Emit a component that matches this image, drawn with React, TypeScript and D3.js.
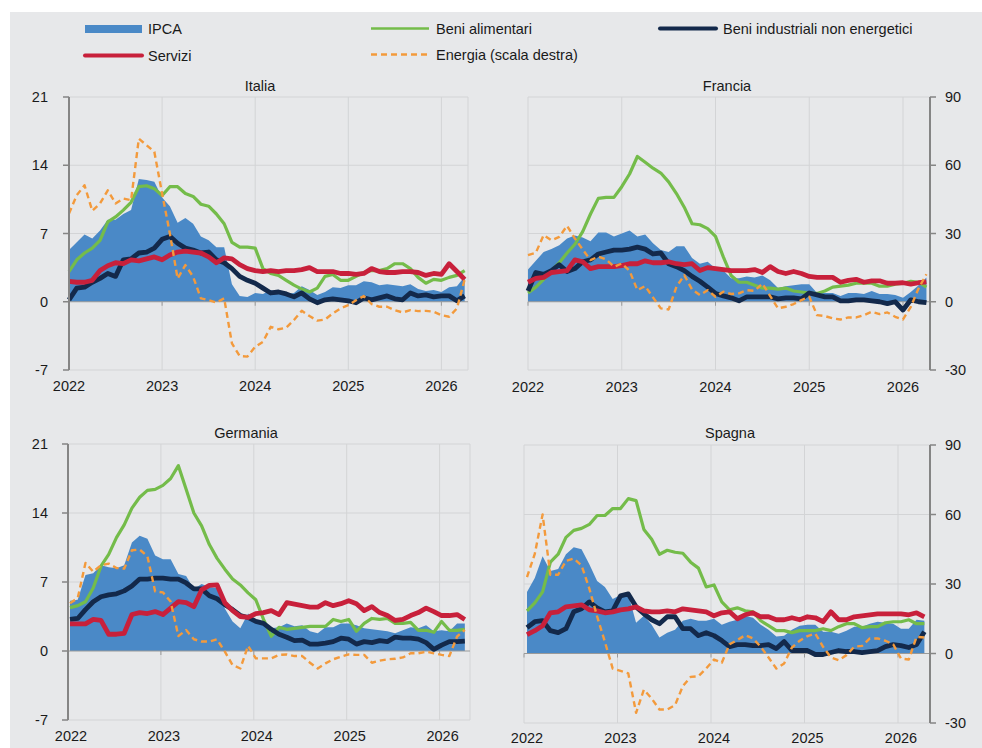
import React from 'react';
import * as d3 from 'd3';

// ---------- DATA ----------
const yearLabels = ['2022', '2023', '2024', '2025', '2026'];
const leftTicks = [-7, 0, 7, 14, 21];
const rightTicks = [-30, 0, 30, 60, 90];

const itIPCA = [5.3,6.1,6.9,6.5,7.3,8.4,8.4,9.0,9.4,12.6,12.5,12.3,10.7,9.8,8.1,8.6,8.0,6.7,6.3,5.6,5.6,1.8,0.6,0.5,0.9,0.8,1.2,0.9,0.8,0.9,1.6,1.2,0.7,1.0,1.5,1.4,1.7,1.7,2.1,2.0,1.7,1.8,1.7,1.6,1.8,1.3,1.1,1.2,1.0,1.5,1.6,2.6];
const itFood = [3.1,4.3,5.0,5.5,6.3,8.2,8.7,9.4,10.2,11.8,11.9,11.6,10.9,11.8,11.8,11.1,10.8,10.0,9.8,9.0,8.0,6.1,5.6,5.6,5.5,3.4,2.9,2.7,2.2,1.7,1.3,1.0,1.4,2.6,2.8,2.2,2.2,2.6,3.0,3.2,3.2,3.4,3.9,3.9,3.4,2.5,1.9,2.3,2.2,2.5,2.7,3.2];
const itInd = [0.2,1.4,1.5,2.0,2.4,2.9,2.6,4.3,4.4,5.0,5.1,5.5,6.4,6.7,6.0,5.5,5.3,5.0,5.1,4.3,4.0,3.4,2.6,2.2,1.9,1.4,0.9,1.0,0.8,0.5,0.9,0.3,-0.1,0.2,0.3,0.2,0.1,-0.1,0.4,0.2,0.4,0.6,0.3,0.2,0.9,0.6,0.7,0.5,0.6,0.6,0.1,0.6];
const itServ = [2.1,2.0,2.0,2.2,3.2,3.7,4.0,3.9,4.3,4.2,4.4,4.6,4.3,4.8,5.1,5.2,5.1,5.0,4.6,4.0,4.5,4.4,3.8,3.4,3.2,3.1,3.2,3.1,3.2,3.2,3.3,3.5,3.1,3.1,3.1,2.9,2.9,2.8,2.9,3.4,3.1,3.0,3.0,3.1,3.1,3.0,2.7,2.9,2.8,3.9,3.1,2.3];
const itEnergy = [38.8,46.8,51.2,40,43.2,49,43.2,45.4,44.6,71.7,68.8,65.9,47.6,30,10.2,16.1,11,1.5,0.7,-0.3,1.5,-18.3,-23.9,-24.1,-19.8,-17.6,-11,-12.1,-11.4,-8,-4,-6.3,-8.3,-7.8,-5.1,-2.9,-1.5,0.7,2.5,-1,-2.2,-2.2,-3.7,-4.7,-3.7,-4.1,-4,-4.4,-5.9,-6.6,-2.9,9.8];

const frIPCA = [3.3,4.2,5.1,5.4,5.8,6.5,6.8,6.6,6.2,7.1,7.1,6.7,7.0,7.3,6.7,6.9,6.0,5.3,5.1,5.7,5.7,4.5,3.9,4.1,3.4,3.2,2.4,2.4,2.6,2.5,2.7,2.2,1.4,1.6,1.7,1.8,1.8,0.9,0.9,0.9,0.6,0.9,0.9,0.8,1.1,0.8,0.8,0.7,0.4,1.0,1.7,2.5];
const frFood = [0.9,1.5,2.3,3.2,4.0,5.0,5.9,7.2,9.0,10.6,10.7,10.7,11.8,13.1,14.9,14.3,13.7,13.2,12.3,11.1,9.7,8.0,7.9,7.5,6.7,4.6,2.7,2.0,2.0,1.7,1.4,1.4,1.3,1.4,1.1,1.0,0.9,0.85,1.1,1.5,1.6,1.7,1.9,1.9,1.9,1.6,1.6,1.8,1.9,2.1,2.0,1.5];
const frInd = [1.1,3.0,2.8,3.2,3.8,3.1,3.4,4.1,4.3,4.9,5.1,5.3,5.3,5.4,5.6,5.4,4.9,5.0,3.9,3.6,3.2,2.6,2.1,1.5,0.85,0.6,0.4,0.1,0.5,0.5,0.5,0.5,0.3,0.4,0.4,0.3,0.9,0.7,0.5,0.5,0.1,0.1,0.2,0.2,0.1,0,-0.2,0,-0.85,0.2,0,-0.1];
const frServ = [2.0,2.4,2.5,3.0,3.1,3.2,4.3,4.1,3.4,3.6,3.6,3.6,3.7,3.9,3.9,4.2,4.0,4.0,4.1,3.9,3.8,3.9,3.2,3.5,3.4,3.3,3.2,3.2,3.2,3.3,3.0,3.6,3.1,2.9,3.1,2.9,2.6,2.5,2.5,2.5,2.0,2.2,2.3,2.0,2.15,2.15,1.9,1.9,1.95,1.8,1.95,2.05];
const frEnergy = [20.5,21.5,29.3,27,28.5,33.4,27.8,23,18.3,19.8,18.6,15.4,16.8,13.6,5.1,6.9,1.9,-2.9,-3.4,6.6,11.7,5.4,2.9,5.1,2.2,4.4,3.4,3.7,5.1,4.8,8.0,2.5,-2.9,-2.2,-1.0,0.7,2.2,-5.9,-6.3,-7.3,-7.8,-6.9,-6.9,-5.9,-4.4,-5.4,-4.7,-6.6,-7.8,-2.2,5.9,12.1];

const deIPCA = [5.1,5.2,7.7,7.9,8.7,8.5,8.4,8.7,11.0,11.7,11.4,9.7,9.3,9.3,7.8,7.6,6.3,6.8,6.5,6.4,4.3,3.0,2.3,3.8,3.1,2.7,2.3,2.4,2.8,2.5,2.6,2.0,1.8,2.4,2.4,2.8,2.8,2.6,2.3,2.2,2.1,2.0,1.8,2.1,2.4,2.3,2.6,2.0,2.1,2.0,2.8,2.8];
const deFood = [4.4,4.6,5.0,6.4,8.6,9.8,11.5,12.8,14.5,15.6,16.3,16.4,16.8,17.5,18.8,16.4,14.0,12.7,10.8,9.4,8.3,7.3,6.7,5.9,5.2,3.2,1.5,2.4,2.2,2.3,2.4,2.5,2.5,2.5,3.2,3.0,3.2,2.0,2.8,3.3,3.2,3.3,2.8,2.8,2.9,2.1,2.1,1.9,3.0,2.1,2.1,2.2];
const deInd = [3.2,3.3,4.2,5.0,5.5,5.7,5.8,6.1,6.6,7.3,7.3,7.4,7.4,7.3,7.3,6.9,6.3,6.3,5.6,5.3,4.7,4.2,3.6,3.4,3.0,2.8,2.2,1.7,1.4,1.05,1.1,0.7,0.7,0.8,0.95,1.3,1.2,0.7,0.95,0.85,1.05,0.95,1.4,1.3,1.3,1.2,0.85,0.17,0.6,0.95,0.95,1.0];
const deServ = [2.75,2.75,2.75,3.2,3.1,1.7,1.7,1.8,3.7,3.9,3.8,4.0,3.7,4.35,5.0,4.9,4.5,6.2,6.65,6.7,4.9,4.1,3.5,3.4,3.8,3.9,4.1,3.7,4.9,4.75,4.6,4.45,4.45,4.9,4.6,4.8,5.1,4.8,4.1,4.5,3.9,3.6,3.1,3.2,3.6,3.9,4.35,4.0,3.6,3.6,3.7,3.2];
const deEnergy = [20.8,23,38.3,34.5,37.3,38,36.1,35.8,43.8,44.1,41.2,25.9,25.5,21.5,6.5,9.1,5.1,4.1,4.1,5.1,-0.3,-6.1,-7.6,2.3,-3.2,-3.2,-3.2,-1.7,-1.5,-2.2,-2.2,-5.1,-7.6,-5.4,-3.6,-2.5,-1.5,-1.7,-1.7,-5.1,-4.2,-3.6,-3.4,-2.8,-1.0,-1.0,-0.3,-1.0,-1.7,-2.2,6.3,9.2];

const esIPCA = [6.2,7.6,9.8,8.3,8.5,10.0,10.7,10.5,9.0,7.3,6.7,5.5,5.9,6.0,3.1,3.8,2.9,1.6,2.1,2.4,3.3,3.5,3.3,3.3,3.5,2.9,3.2,3.4,3.8,3.6,2.9,2.4,1.7,1.8,2.4,2.8,2.9,2.9,2.2,2.2,2.0,2.3,2.7,2.7,3.0,3.2,3.1,3.0,2.5,2.5,3.4,3.3];
const esFood = [4.3,5.1,6.2,9.2,10.0,11.7,12.4,12.6,13.0,13.9,13.9,14.6,14.6,15.6,15.4,12.5,11.5,10.0,10.4,10.2,10.1,9.2,8.6,6.7,6.9,5.2,4.4,4.6,4.3,4.2,3.3,2.8,2.3,2.3,2.1,2.3,2.3,2.3,2.5,2.3,2.7,3.0,3.0,2.6,2.7,2.7,3.1,3.2,3.2,3.4,3.0,3.0];
const esInd = [2.6,3.2,3.3,2.3,2.1,2.5,4.2,4.5,5.2,4.6,4.2,4.3,5.8,6.0,4.7,4.0,3.4,3.0,3.7,3.7,2.5,2.5,1.8,2.1,1.8,1.3,0.7,0.9,0.9,0.8,0.8,0.9,0.5,1.2,0.3,0.3,0.3,-0.1,-0.1,0.1,0.3,0.2,0.2,0.1,0.2,0.3,0.7,0.9,0.8,0.6,0.9,2.2];
const esServ = [1.9,2.3,2.8,4.1,4.2,4.7,4.8,4.9,4.4,4.3,4.1,4.2,4.4,4.5,4.7,4.3,4.2,4.2,4.3,4.2,4.5,4.4,4.3,4.2,3.8,4.1,4.2,3.5,3.9,4.1,3.7,3.7,3.4,3.4,3.6,3.4,3.7,3.6,3.2,4.2,3.4,3.4,3.7,3.8,3.9,4.0,4.0,4.0,4.0,3.9,4.1,3.7];
const esEnergy = [33,43,60,34,34,40,41,38,28,16,5,-6.5,-7.5,-8.6,-25.6,-15.6,-19.4,-24.2,-24.2,-22.3,-14.1,-10.1,-9.8,-6.5,-2.6,-4,4,5.8,7.9,6.5,2.9,-1.7,-6.5,-4.3,2.6,5.5,7.5,8.6,2.9,-1.7,-2.9,-0.7,2.9,3.3,6.5,6.5,5.5,4.0,-2.2,-2.6,7.2,6.9];

const seriesNames = ['IPCA', 'Beni alimentari', 'Beni industriali non energetici', 'Servizi', 'Energia (scala destra)'];

// ---------- STYLE ----------
const C = {
  bg: '#e7e8ea',
  grid: '#d3d4d6',
  axis: '#858585',
  zero: '#9a9a9a',
  blue: '#4a89c7',
  green: '#74bc4a',
  navy: '#13294b',
  red: '#c8203b',
  orange: '#f39a3c',
  text: '#1a1a1a',
};
const FONT = 'Liberation Sans, Arial, Helvetica, sans-serif';

type PanelCfg = {
  title: string;
  x0: number; yearW: number; xEnd: number;
  top: number; bottom: number;
  dOff: number; lOff: number;
  side: 'left' | 'right';
  titleX: number; titleY: number; labelY: number;
  ipca: number[]; food: number[]; ind: number[]; serv: number[]; energy: number[];
};

const panels: PanelCfg[] = [
  { title: 'Italia', x0: 69, yearW: 93.1, xEnd: 468, top: 97, bottom: 370, dOff: 0, lOff: 0, side: 'left', titleX: 260, titleY: 91, labelY: 391,
    ipca: itIPCA, food: itFood, ind: itInd, serv: itServ, energy: itEnergy },
  { title: 'Francia', x0: 528, yearW: 93.75, xEnd: 930, top: 97, bottom: 370, dOff: 0, lOff: 0, side: 'right', titleX: 727, titleY: 91, labelY: 392,
    ipca: frIPCA, food: frFood, ind: frInd, serv: frServ, energy: frEnergy },
  { title: 'Germania', x0: 68, yearW: 92.9, xEnd: 470, top: 444, bottom: 720, dOff: 2, lOff: 3, side: 'left', titleX: 246, titleY: 438, labelY: 741,
    ipca: deIPCA, food: deFood, ind: deInd, serv: deServ, energy: deEnergy },
  { title: 'Spagna', x0: 524, yearW: 93.5, xEnd: 930, top: 445, bottom: 723, dOff: 3, lOff: 3, side: 'right', titleX: 730, titleY: 438, labelY: 743,
    ipca: esIPCA, food: esFood, ind: esInd, serv: esServ, energy: esEnergy },
];

function Panel({ p }: { p: PanelCfg }) {
  const xm = d3.scaleLinear().domain([0, 48]).range([p.x0, p.x0 + 4 * p.yearW]);
  const yL = d3.scaleLinear().domain([-7, 21]).range([p.bottom, p.top]);
  const yR = d3.scaleLinear().domain([-30, 90]).range([p.bottom, p.top]);
  const xd = (i: number) => xm(i) + p.dOff;

  const area = d3.area<number>().x((_, i) => xd(i)).y0(yL(0)).y1((d) => yL(d));
  const lineL = d3.line<number>().x((_, i) => xd(i)).y((d) => yL(d));
  const lineR = d3.line<number>().x((_, i) => xd(i)).y((d) => yR(d));

  const years = [0, 12, 24, 36, 48];
  const axisX = p.side === 'left' ? p.x0 : p.xEnd;
  const edgeX = p.side === 'left' ? p.xEnd : p.x0;

  return (
    <g>
      {leftTicks.filter((t) => t !== 0).map((t) => (
        <line key={'h' + t} x1={p.x0} x2={p.xEnd} y1={yL(t)} y2={yL(t)} stroke={C.grid} strokeWidth={1} />
      ))}
      {years.slice(1).map((m) => (
        <line key={'v' + m} x1={xm(m)} x2={xm(m)} y1={p.top} y2={p.bottom} stroke={C.grid} strokeWidth={1} />
      ))}
      <line x1={edgeX} x2={edgeX} y1={p.top} y2={p.bottom} stroke={C.grid} strokeWidth={1} />

      <path d={area(p.ipca) || ''} fill={C.blue} />

      <line x1={p.x0} x2={p.xEnd} y1={yL(0)} y2={yL(0)} stroke={C.zero} strokeWidth={1.2} />
      {years.map((m) => (
        <line key={'xt' + m} x1={xm(m)} x2={xm(m)} y1={yL(0)} y2={yL(0) + 4} stroke={C.zero} strokeWidth={1} />
      ))}

      <path d={lineL(p.food) || ''} fill="none" stroke={C.green} strokeWidth={3.2} strokeLinejoin="round" />
      <path d={lineL(p.ind) || ''} fill="none" stroke={C.navy} strokeWidth={4.8} strokeLinejoin="round" />
      <path d={lineL(p.serv) || ''} fill="none" stroke={C.red} strokeWidth={4.8} strokeLinejoin="round" />
      <path d={lineR(p.energy) || ''} fill="none" stroke={C.orange} strokeWidth={2.4} strokeDasharray="6,4" strokeLinejoin="round" />

      <line x1={axisX} x2={axisX} y1={p.top} y2={p.bottom} stroke={C.axis} strokeWidth={2} />
      {p.side === 'left'
        ? leftTicks.map((t) => (
            <g key={'lt' + t}>
              <line x1={axisX - 6} x2={axisX} y1={yL(t)} y2={yL(t)} stroke={C.axis} strokeWidth={1.5} />
              <text x={48} y={yL(t)} dy="0.36em" textAnchor="end" fontSize={14.5} fontFamily={FONT} fill={C.text}>{t}</text>
            </g>
          ))
        : rightTicks.map((t) => (
            <g key={'rt' + t}>
              <line x1={axisX} x2={axisX + 6} y1={yR(t)} y2={yR(t)} stroke={C.axis} strokeWidth={1.5} />
              <text x={945} y={yR(t)} dy="0.36em" textAnchor="start" fontSize={14.5} fontFamily={FONT} fill={C.text}>{t}</text>
            </g>
          ))}

      {years.map((m, k) => (
        <text key={'yl' + m} x={xm(m) + p.lOff} y={p.labelY} textAnchor="middle" fontSize={14.5} fontFamily={FONT} fill={C.text}>{yearLabels[k]}</text>
      ))}

      <text x={p.titleX} y={p.titleY} textAnchor="middle" fontSize={14.5} fontFamily={FONT} fill={C.text}>{p.title}</text>
    </g>
  );
}

function Legend() {
  const ts = { fontSize: 14.5, fontFamily: FONT, fill: C.text } as const;
  return (
    <g>
      <rect x={85} y={25} width={57} height={8} fill={C.blue} />
      <text x={148} y={29} dy="0.36em" {...ts}>{seriesNames[0]}</text>

      <line x1={371} x2={429} y1={28.5} y2={28.5} stroke={C.green} strokeWidth={2.5} />
      <text x={436} y={29} dy="0.36em" {...ts}>{seriesNames[1]}</text>

      <line x1={660} x2={716} y1={28.5} y2={28.5} stroke={C.navy} strokeWidth={4} strokeLinecap="round" />
      <text x={723} y={29} dy="0.36em" {...ts}>{seriesNames[2]}</text>

      <line x1={85} x2={142} y1={55.5} y2={55.5} stroke={C.red} strokeWidth={4} strokeLinecap="round" />
      <text x={148} y={56} dy="0.36em" {...ts}>{seriesNames[3]}</text>

      <line x1={371} x2={429} y1={54.5} y2={54.5} stroke={C.orange} strokeWidth={2.5} strokeDasharray="6,4" />
      <text x={436} y={55} dy="0.36em" {...ts}>{seriesNames[4]}</text>
    </g>
  );
}

export default function App() {
  return (
    <svg width={982} height={748} style={{ position: 'absolute', left: 0, top: 0, display: 'block' }}>
      <rect x={0} y={0} width={982} height={748} fill="#ffffff" />
      <rect x={10} y={12} width={972} height={736} fill={C.bg} />
      <Legend />
      {panels.map((p) => (
        <Panel key={p.title} p={p} />
      ))}
    </svg>
  );
}
